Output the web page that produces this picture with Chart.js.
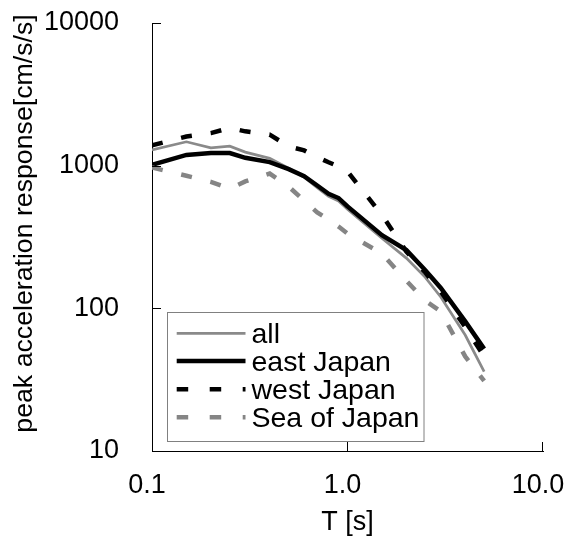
<!DOCTYPE html>
<html>
<head>
<meta charset="utf-8">
<script src="https://cdn.jsdelivr.net/npm/chart.js@4.4.1/dist/chart.umd.min.js"></script>
<style>
  html, body { margin: 0; padding: 0; background: #fff; }
  #wrap { width: 569px; height: 544px; position: relative; }
</style>
</head>
<body>
<div id="wrap"><canvas id="chart"></canvas></div>
<script>
const periods = [0.1, 0.15, 0.2, 0.25, 0.3, 0.4, 0.5, 0.6, 0.7, 0.8, 0.9, 1.0, 1.5, 2.0, 2.5, 3.0, 4.0, 5.0];
const allSites = [1290, 1470, 1335, 1370, 1245, 1125, 960, 830, 700, 610, 565, 495, 310, 225, 165, 120, 65, 36];
const eastJapan = [1015, 1190, 1225, 1225, 1135, 1060, 945, 845, 726, 635, 593, 518, 326, 256, 185, 139, 81, 52];
const westJapan = [1390, 1600, 1690, 1840, 1740, 1650, 1365, 1280, 1150, 1056, 987, 910, 452, 250, 178, 131, 74, 46];
const seaOfJapan = [970, 850, 770, 690, 775, 880, 713, 569, 470, 419, 374, 334, 242, 156, 113, 95, 46, 31];
const xTicks = [0.1, 1, 10];
const yTicks = [10, 100, 1000, 10000];
const seriesNames = ['all', 'east Japan', 'west Japan', 'Sea of Japan'];

const family = 'Liberation Sans, Arial, sans-serif';
const toPoints = ys => periods.map((t, i) => ({ x: t, y: ys[i] }));

// small inward tick marks, like the original spreadsheet chart
const innerTicks = {
    id: 'innerTicks',
    afterDraw(chart) {
        const { ctx, chartArea, scales } = chart;
        ctx.save();
        ctx.strokeStyle = '#000';
        ctx.lineWidth = 1;
        ctx.beginPath();
        yTicks.slice(1).forEach(v => {
            const y = Math.round(scales.y.getPixelForValue(v)) + 0.5;
            ctx.moveTo(chartArea.left, y);
            ctx.lineTo(chartArea.left + 9, y);
        });
        xTicks.slice(1).forEach(v => {
            const x = Math.round(scales.x.getPixelForValue(v)) - 0.5;
            ctx.moveTo(x, chartArea.bottom);
            ctx.lineTo(x, chartArea.bottom - 9);
        });
        ctx.stroke();
        ctx.restore();
    }
};

const yTitle = {
    id: 'yTitle',
    afterDraw(chart) {
        const ctx = chart.ctx;
        ctx.save();
        ctx.translate(32, 223.5);
        ctx.rotate(-Math.PI / 2);
        ctx.font = '26.7px ' + family;
        ctx.fillStyle = '#000';
        ctx.textAlign = 'center';
        ctx.textBaseline = 'alphabetic';
        ctx.fillText('peak acceleration response[cm/s/s]', 0, 0);
        ctx.restore();
    }
};

const boxLegend = {
    id: 'boxLegend',
    afterDraw(chart) {
        const ctx = chart.ctx;
        ctx.save();
        ctx.fillStyle = '#fff';
        ctx.fillRect(167.5, 312.5, 256.5, 129);
        ctx.strokeStyle = '#808080';
        ctx.lineWidth = 1;
        ctx.strokeRect(167.5, 312.5, 256.5, 129);
        const rows = [333.3, 361, 389.3, 417.3];
        chart.data.datasets.forEach((ds, i) => {
            ctx.strokeStyle = ds.borderColor;
            ctx.lineWidth = ds.borderWidth;
            ctx.setLineDash(ds.borderDash ? [11.5, 21.5] : []);
            ctx.beginPath();
            ctx.moveTo(176.7, rows[i]);
            ctx.lineTo(245.5, rows[i]);
            ctx.stroke();
            ctx.setLineDash([]);
            ctx.fillStyle = '#000';
            ctx.font = '28.5px ' + family;
            ctx.textBaseline = 'alphabetic';
            ctx.fillText(ds.label, 251.5, rows[i] + 10);
        });
        ctx.restore();
    }
};

const ctx = document.getElementById('chart').getContext('2d');
new Chart(ctx, {
    type: 'line',
    data: {
        datasets: [
            { label: seriesNames[0], data: toPoints(allSites), borderColor: '#8a8a8a', borderWidth: 2.7, order: 3 },
            { label: seriesNames[1], data: toPoints(eastJapan), borderColor: '#000', borderWidth: 4.5, order: 2 },
            { label: seriesNames[2], data: toPoints(westJapan), borderColor: '#000', borderWidth: 4.5, borderDash: [11, 19], order: 1 },
            { label: seriesNames[3], data: toPoints(seaOfJapan), borderColor: '#858585', borderWidth: 4.5, borderDash: [11, 19], order: 0 }
        ]
    },
    options: {
        responsive: true,
        maintainAspectRatio: false,
        animation: false,
        layout: { padding: { left: 0, right: 26, top: 23, bottom: 0 } },
        elements: {
            point: { radius: 0 },
            line: { tension: 0, fill: false, borderCapStyle: 'butt' }
        },
        plugins: {
            legend: { display: false },
            tooltip: { enabled: false }
        },
        scales: {
            x: {
                type: 'logarithmic',
                min: 0.1,
                max: 10,
                afterBuildTicks: s => { s.ticks = xTicks.map(v => ({ value: v })); },
                afterFit: s => { s.height = 93; s.paddingLeft = 0; s.paddingRight = 0; },
                ticks: {
                    callback: v => Number(v).toFixed(1),
                    font: { family: family, size: 27 },
                    color: '#000',
                    padding: 18,
                    labelOffset: -5,
                    maxRotation: 0,
                    autoSkip: false
                },
                grid: { drawOnChartArea: false, drawTicks: false },
                border: { color: '#000', width: 1 },
                title: {
                    display: true,
                    text: 'T [s]',
                    font: { family: family, size: 27 },
                    color: '#000',
                    padding: { top: 0, bottom: 5 }
                }
            },
            y: {
                type: 'logarithmic',
                min: 10,
                max: 10000,
                afterBuildTicks: s => { s.ticks = yTicks.map(v => ({ value: v })); },
                afterFit: s => { s.width = 152; s.paddingTop = 0; s.paddingBottom = 0; },
                ticks: {
                    callback: v => String(v),
                    font: { family: family, size: 27 },
                    color: '#000',
                    padding: 33,
                    autoSkip: false
                },
                grid: { drawOnChartArea: false, drawTicks: false },
                border: { color: '#000', width: 1 }
            }
        }
    },
    plugins: [innerTicks, yTitle, boxLegend]
});
</script>
</body>
</html>
